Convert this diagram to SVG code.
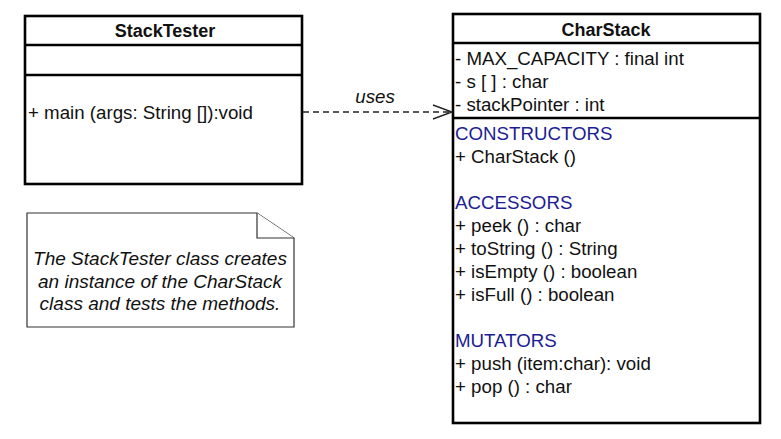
<svg xmlns="http://www.w3.org/2000/svg" width="781" height="439" viewBox="0 0 781 439">
<defs>
<style>
.box{fill:#fff;stroke:#000;stroke-width:2.6}
.div{stroke:#000;stroke-width:2.4}
.t{font-family:"Liberation Sans",Arial,sans-serif;font-size:18.7px;fill:#111}
.b{font-weight:bold;text-anchor:middle;font-size:18px}
.h{fill:#1c1c94}
.i{font-style:italic}
.n{font-size:19px}
.note{fill:#fff;stroke:#333;stroke-width:1.2}
.conn{fill:none;stroke:#222;stroke-width:1.3}
</style>
<marker id="open" markerWidth="22" markerHeight="18" refX="20" refY="8" orient="auto" markerUnits="userSpaceOnUse">
<path d="M1,1 L20,8 L1,15" fill="none" stroke="#222" stroke-width="1.4"/>
</marker>
</defs>
<rect width="781" height="439" fill="#fff"/>
<g id="StackTester">
<rect class="box" x="25" y="16" width="277" height="168"/>
<line class="div" x1="25" y1="45" x2="302" y2="45"/>
<line class="div" x1="25" y1="75" x2="302" y2="75"/>
<text class="t b" x="165" y="37">StackTester</text>
<text class="t" x="28" y="119">+ main (args: String []):void</text>
</g>
<g id="CharStack">
<rect class="box" x="453" y="14" width="307" height="409"/>
<line class="div" x1="453" y1="43" x2="760" y2="43"/>
<line class="div" x1="453" y1="118" x2="760" y2="118"/>
<text class="t b" x="606" y="36">CharStack</text>
<text class="t" x="455" y="65">- MAX_CAPACITY : final int</text>
<text class="t" x="455" y="88">- s [ ] : char</text>
<text class="t" x="455" y="111">- stackPointer : int</text>
<text class="t h" x="455" y="140">CONSTRUCTORS</text>
<text class="t" x="455" y="163">+ CharStack ()</text>
<text class="t h" x="455" y="209">ACCESSORS</text>
<text class="t" x="455" y="232">+ peek () : char</text>
<text class="t" x="455" y="255">+ toString () : String</text>
<text class="t" x="455" y="278">+ isEmpty () : boolean</text>
<text class="t" x="455" y="301">+ isFull () : boolean</text>
<text class="t h" x="455" y="347">MUTATORS</text>
<text class="t" x="455" y="370">+ push (item:char): void</text>
<text class="t" x="455" y="393">+ pop () : char</text>
</g>
<g id="Note">
<path class="note" d="M27,213 L257,213 L294,238 L294,327 L27,327 Z"/>
<path class="note" d="M257,213 L257,238 L294,238"/>
<text class="t i n" x="160" y="265" text-anchor="middle">The StackTester class creates</text>
<text class="t i n" x="160" y="288" text-anchor="middle">an instance of the CharStack</text>
<text class="t i n" x="160" y="310" text-anchor="middle">class and tests the methods.</text>
</g>
<g id="connectors">
<line class="conn" x1="303" y1="112" x2="452" y2="112" stroke-dasharray="6,4" marker-end="url(#open)"/>
<text class="t i" x="375" y="103" text-anchor="middle" font-size="17">uses</text>
</g>
</svg>
